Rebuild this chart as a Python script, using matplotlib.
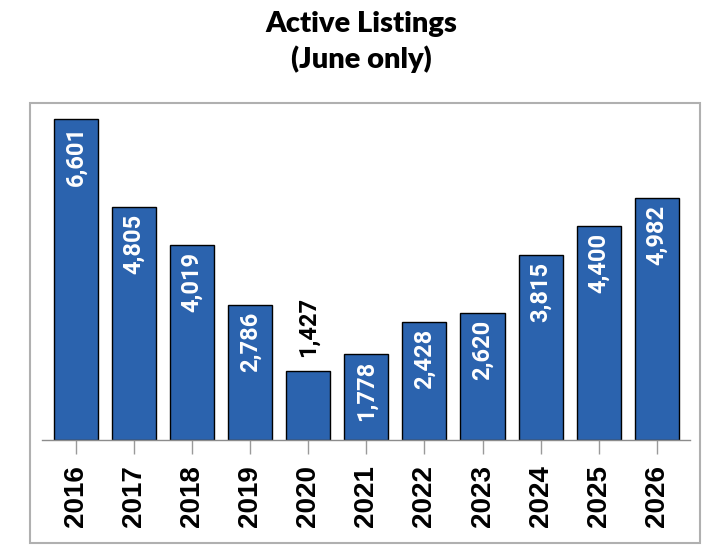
import matplotlib
matplotlib.use("Agg")
import matplotlib.pyplot as plt
from matplotlib.patches import Rectangle

years = ["2016", "2017", "2018", "2019", "2020", "2021",
         "2022", "2023", "2024", "2025", "2026"]
listings = [6601, 4805, 4019, 2786, 1427, 1778, 2428, 2620, 3815, 4400, 4982]
# labels that don't fit inside their bar go on top
outside = {"2020"}

bar_color = "#2B63AE"

fig = plt.figure(figsize=(7.22, 5.60), dpi=100)
ax = fig.add_axes([42 / 722, 1 - 440 / 560, (690 - 42) / 722, (440 - 104) / 560])

x = range(len(years))
ax.bar(x, listings, width=0.76, color=bar_color, edgecolor="black", linewidth=1.0)

for i, (yr, v) in enumerate(zip(years, listings)):
    txt = f"{v:,}"
    if yr in outside:
        ax.annotate(txt, (i, v), xytext=(0, 10), textcoords="offset points",
                    rotation=90, ha="center", va="bottom", color="black",
                    fontsize=17, fontweight="bold", family="Roboto")
    else:
        ax.annotate(txt, (i, v), xytext=(0, -5), textcoords="offset points",
                    rotation=90, ha="center", va="top", color="white",
                    fontsize=17, fontweight="bold", family="Roboto")

ax.set_xlim(-0.58, 10.57)
ax.set_ylim(0, 6917)
ax.set_xticks(list(x))
ax.set_xticklabels(years, rotation=90, fontsize=20, fontweight="bold",
                   family="Liberation Sans")
ax.set_yticks([])
for side in ["top", "right", "left"]:
    ax.spines[side].set_visible(False)
ax.spines["bottom"].set_color("#8c8c8c")
ax.spines["bottom"].set_linewidth(1.0)
ax.tick_params(axis="x", length=10, width=1, color="#9a9a9a", pad=8)

# grey frame around plot area
fig.patches.append(Rectangle((30 / 722, 1 - 543 / 560), 670 / 722, 440 / 560,
                             transform=fig.transFigure, fill=False,
                             edgecolor="#b0b0b0", linewidth=1.5))

fig.text(0.5, 1 - 24 / 560, "Active Listings", ha="center", va="center",
         fontsize=21, fontweight="heavy", family="Lato")
fig.text(0.5, 1 - 59 / 560, "(June only)", ha="center", va="center",
         fontsize=21, fontweight="heavy", family="Lato")

fig.savefig("out.png", dpi=100)
